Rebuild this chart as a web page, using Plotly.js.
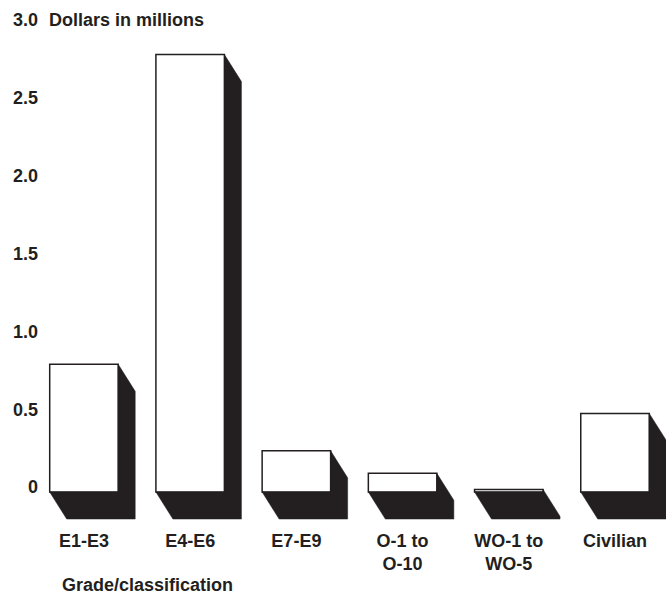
<!DOCTYPE html>
<html>
<head>
<meta charset="utf-8">
<script src="https://cdn.plot.ly/plotly-3.0.1.min.js"></script>
<style>
  html, body { margin: 0; padding: 0; background: #ffffff; }
  #chart { width: 666px; height: 596px; }
</style>
</head>
<body>
<div id="chart"></div>
<script>
// Grade / classification groups and their amounts (dollars in millions)
const categories = ['E1-E3', 'E4-E6', 'E7-E9', 'O-1 to<br>O-10', 'WO-1 to<br>WO-5', 'Civilian'];
const values = [0.82, 2.81, 0.265, 0.12, 0.017, 0.505];
const yTickVals = [0, 0.5, 1.0, 1.5, 2.0, 2.5, 3.0];
const yTickText = ['0', '0.5', '1.0', '1.5', '2.0', '2.5', '3.0'];

// Page and plot-box geometry
const W = 666, H = 596;
const M = { l: 42, r: 0, t: 15, b: 68 };
const xRange = [-0.395, 5.48];
const yRange = [-0.231, 3.064];
const plotW = W - M.l - M.r;
const plotH = H - M.t - M.b;

// The extruded "depth" of each block, given in pixels and turned into axis units
const unitsPerPxX = (xRange[1] - xRange[0]) / plotW;
const unitsPerPxY = (yRange[1] - yRange[0]) / plotH;
const depthX = 17 * unitsPerPxX;
const depthY = 27 * unitsPerPxY;
const barWidth = 0.645;

const ink = '#231f20';
const fontFamily = '"Liberation Sans", Arial, Helvetica, sans-serif';

const xIdx = categories.map((_, i) => i);

// Dark side + bottom faces behind each front face
const shadowTraces = values.map((v, i) => {
  const L = i - barWidth / 2, R = i + barWidth / 2;
  return {
    type: 'scatter',
    mode: 'lines',
    x: [R, R + depthX, R + depthX, L + depthX, L, R, R],
    y: [v, v - depthY, 0 - depthY, 0 - depthY, 0, 0, v],
    fill: 'toself',
    fillcolor: ink,
    line: { color: ink, width: 0.5 },
    hoverinfo: 'skip',
    showlegend: false
  };
});

// White front faces
const frontTrace = {
  type: 'bar',
  x: xIdx,
  y: values,
  width: barWidth,
  marker: { color: '#ffffff', line: { color: ink, width: 1.5 } },
  hoverinfo: 'x+y',
  showlegend: false
};

const layout = {
  width: W,
  height: H,
  margin: M,
  paper_bgcolor: '#ffffff',
  plot_bgcolor: '#ffffff',
  font: { family: fontFamily, size: 18, color: ink, weight: 'bold' },
  title: {
    text: 'Dollars in millions',
    font: { family: fontFamily, size: 18, color: ink, weight: 'bold' },
    xref: 'container', x: 49 / W, xanchor: 'left',
    yref: 'container', y: 1 - 20 / H, yanchor: 'middle'
  },
  xaxis: {
    range: xRange,
    tickmode: 'array',
    tickvals: xIdx,
    ticktext: categories,
    showgrid: false,
    zeroline: false,
    showline: false,
    ticks: '',
    fixedrange: true,
    tickfont: { family: fontFamily, size: 18, color: ink, weight: 'bold' }
  },
  yaxis: {
    range: yRange,
    tickmode: 'array',
    tickvals: yTickVals,
    ticktext: yTickText,
    showgrid: false,
    zeroline: false,
    showline: false,
    ticks: '',
    ticklabelshift: -5,
    ticklabelstandoff: 3,
    fixedrange: true,
    tickfont: { family: fontFamily, size: 18, color: ink, weight: 'bold' }
  },
  annotations: [{
    text: 'Grade/classification',
    xref: 'paper', x: (60 - M.l) / plotW, xanchor: 'left',
    yref: 'paper', y: -(585 - (H - M.b)) / plotH, yanchor: 'middle',
    showarrow: false,
    font: { family: fontFamily, size: 18, color: ink, weight: 'bold' }
  }],
  bargap: 0
};

Plotly.newPlot('chart', [...shadowTraces, frontTrace], layout, { displayModeBar: false, staticPlot: true });
</script>
</body>
</html>
